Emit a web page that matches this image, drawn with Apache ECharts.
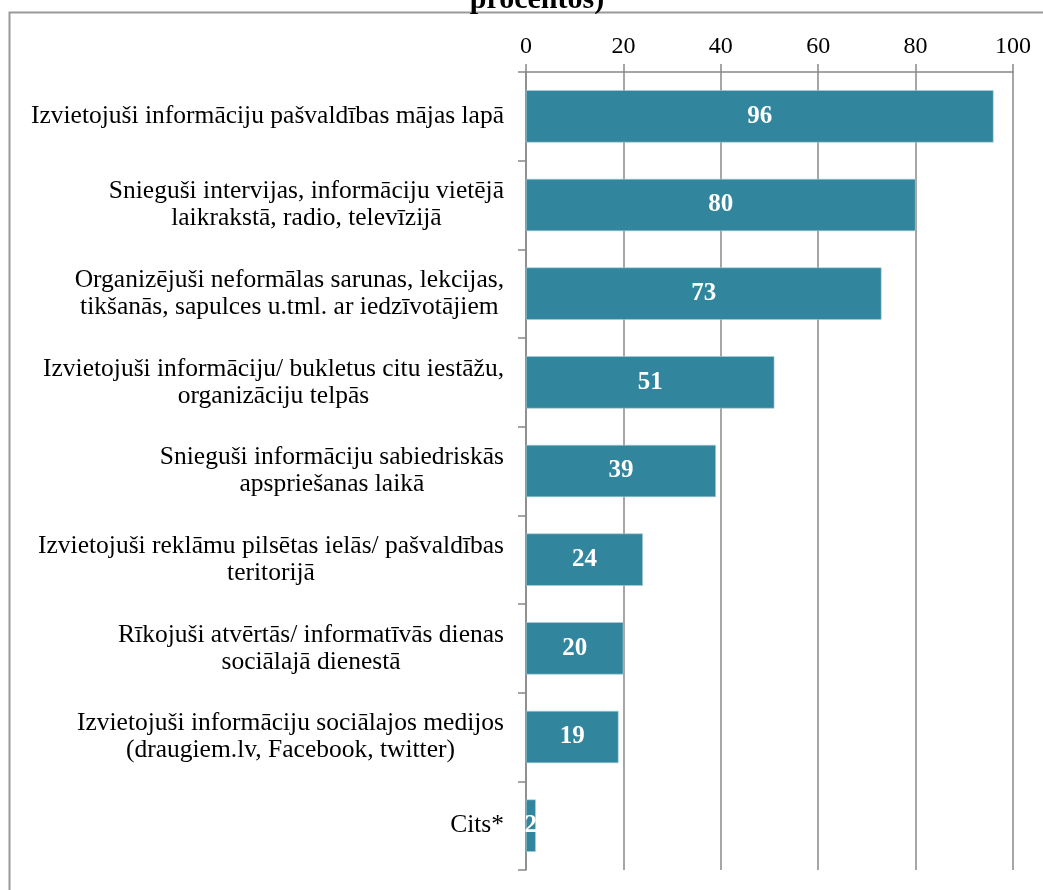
<!DOCTYPE html>
<html>
<head>
<meta charset="utf-8">
<script src="https://cdn.jsdelivr.net/npm/echarts@6/dist/echarts.min.js"></script>
<style>html,body{margin:0;padding:0;background:#fff}#c{width:1043px;height:890px}</style>
</head>
<body>
<div id="c"></div>
<script>
const categories = [
  "Izvietojuši informāciju pašvaldības mājas lapā",
  "Snieguši intervijas, informāciju vietējā\nlaikrakstā, radio, televīzijā",
  "Organizējuši neformālas sarunas, lekcijas,\ntikšanās, sapulces u.tml. ar iedzīvotājiem",
  "Izvietojuši informāciju/ bukletus citu iestāžu,\norganizāciju telpās",
  "Snieguši informāciju sabiedriskās\napspriešanas laikā",
  "Izvietojuši reklāmu pilsētas ielās/ pašvaldības\nteritorijā",
  "Rīkojuši atvērtās/ informatīvās dienas\nsociālajā dienestā",
  "Izvietojuši informāciju sociālajos medijos\n(draugiem.lv, Facebook, twitter)",
  "Cits*"
];
const values = [96, 80, 73, 51, 39, 24, 20, 19, 2];
const titleText = "procentos)";

const font = "'Liberation Serif', 'Times New Roman', serif";
const chart = echarts.init(document.getElementById('c'));
chart.setOption({
  animation: false,
  backgroundColor: '#fff',
  title: {
    text: titleText, left: 532, textAlign: 'center', top: -20,
    textStyle: { fontFamily: font, fontSize: 30, fontWeight: 'bold', color: '#000' }
  },
  graphic: [{
    type: 'rect', silent: true, z: -1,
    shape: { x: 9.5, y: 12.5, width: 1200, height: 1000 },
    style: { fill: null, stroke: '#999', lineWidth: 2 }
  }],
  grid: { left: 526, right: 30, top: 72, bottom: 20, containLabel: false },
  xAxis: {
    type: 'value', position: 'top', min: 0, max: 100, interval: 20,
    axisLine: { show: true, lineStyle: { color: '#888', width: 1.5 } },
    axisTick: { show: true, length: 8, inside: false, lineStyle: { color: '#888', width: 1.5 } },
    splitLine: { show: true, lineStyle: { color: '#888', width: 1.5 } },
    axisLabel: { fontFamily: font, fontSize: 24, color: '#000', margin: 13 }
  },
  yAxis: {
    type: 'category', inverse: true, data: categories,
    axisLine: { show: true, lineStyle: { color: '#888', width: 1.5 } },
    axisTick: { show: true, length: 8, lineStyle: { color: '#888', width: 1.5 } },
    axisLabel: {
      margin: 22, align: 'right',
      formatter: v => v.split('\n').map(l => '{c|' + l + '}').join('\n'),
      rich: { c: { fontFamily: font, fontSize: 25.5, color: '#000', align: 'center', lineHeight: 27 } }
    }
  },
  series: [{
    type: 'bar', data: values, barWidth: '59%',
    itemStyle: { color: '#31859c', borderColor: '#a9cfd8', borderWidth: 0.6 },
    label: {
      show: true, position: 'inside', color: '#fff',
      fontFamily: font, fontSize: 25, fontWeight: 'bold'
    }
  }]
});
</script>
</body>
</html>
